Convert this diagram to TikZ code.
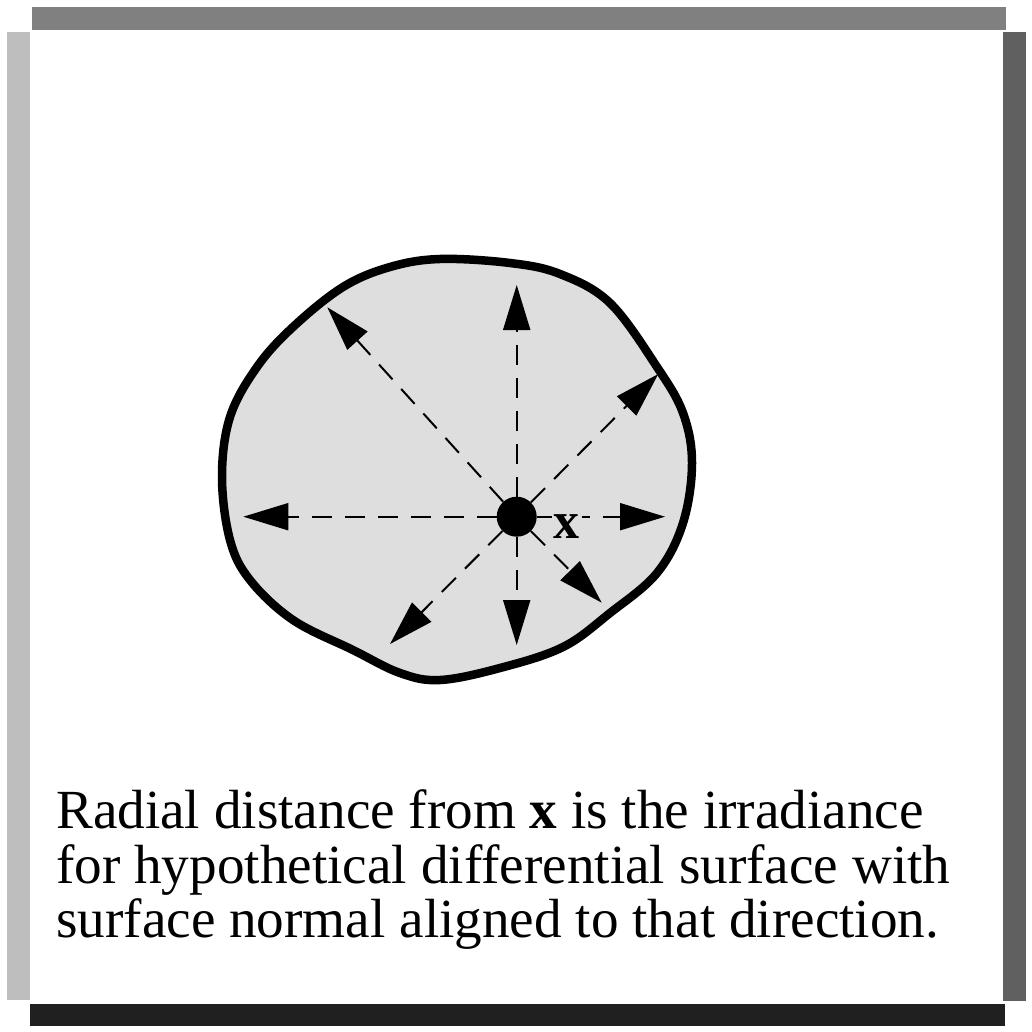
\documentclass[tikz,border=0pt]{standalone}
\usepackage{fontspec}
\setmainfont{Liberation Serif}
\usetikzlibrary{arrows.meta}
\definecolor{bartop}{RGB}{128,128,128}
\definecolor{barleft}{RGB}{190,190,190}
\definecolor{barright}{RGB}{96,96,96}
\definecolor{barbottom}{RGB}{32,32,32}
\definecolor{blobfill}{RGB}{222,222,222}
\tikzset{
  ray/.style={line width=2pt, dash pattern=on 20pt off 13pt,
    -{Triangle[length=45pt,width=27pt]}},
  captiontext/.style={anchor=base west, inner sep=0pt,
    font=\fontsize{55.2}{54.5}\selectfont},
}
\begin{document}
\begin{tikzpicture}[x=1pt,y=-1pt]
\useasboundingbox (0,0) rectangle (1032,1032);
% frame bars
\fill[bartop] (31.5,7.5) rectangle (1006,30.5);
\fill[barleft] (7,32.3) rectangle (30,999.7);
\fill[barright] (1003.3,32.3) rectangle (1026.3,1001.3);
\fill[barbottom] (30,1004) rectangle (1005.3,1026.3);
% blob
\draw[line width=8.5pt, fill=blobfill, line join=round]
  plot[smooth cycle, tension=0.6] coordinates {
  (440,259) (510,263) (560,274) (610,303) (657,367) (683,413) (692,463)
  (683,523) (657,573) (610,613) (563,647) (500,668) (440,680) (400,673)
  (353,650) (293,620) (250,580) (230,540) (222,477) (230,417) (257,367)
  (293,327) (343,287) (390,267)};
% centre point
\node[circle, fill=black, minimum size=40pt, inner sep=0pt] (dot) at (516.7,516.7) {};
% arrow tip coordinates
\coordinate (tU) at (516.7,285);
\coordinate (tD) at (516.7,645);
\coordinate (tL) at (243.3,516.7);
\coordinate (tR) at (665,516.7);
\coordinate (tUR) at (658.3,374);
\coordinate (tUL) at (327.3,307.3);
\coordinate (tDL) at (390,644);
\coordinate (tDR) at (601.7,602.7);
% rays
\foreach \t in {tU,tD,tL,tR,tUR,tUL,tDL,tDR}
  \draw[ray] (dot) -- (\t);
% label
\node[fill=blobfill, inner sep=2pt, anchor=base, font=\fontsize{52}{54.5}\selectfont\bfseries] (xlab) at (566.5,538) {x};
% caption
\node[captiontext] (line1) at (56,828.3) {Radial distance from \textbf{x} is the irradiance};
\node[captiontext] (line2) at (56,883) {for hypothetical differential surface with};
\node[captiontext] (line3) at (56,937.5) {surface normal aligned to that direction.};
\end{tikzpicture}
\end{document}
